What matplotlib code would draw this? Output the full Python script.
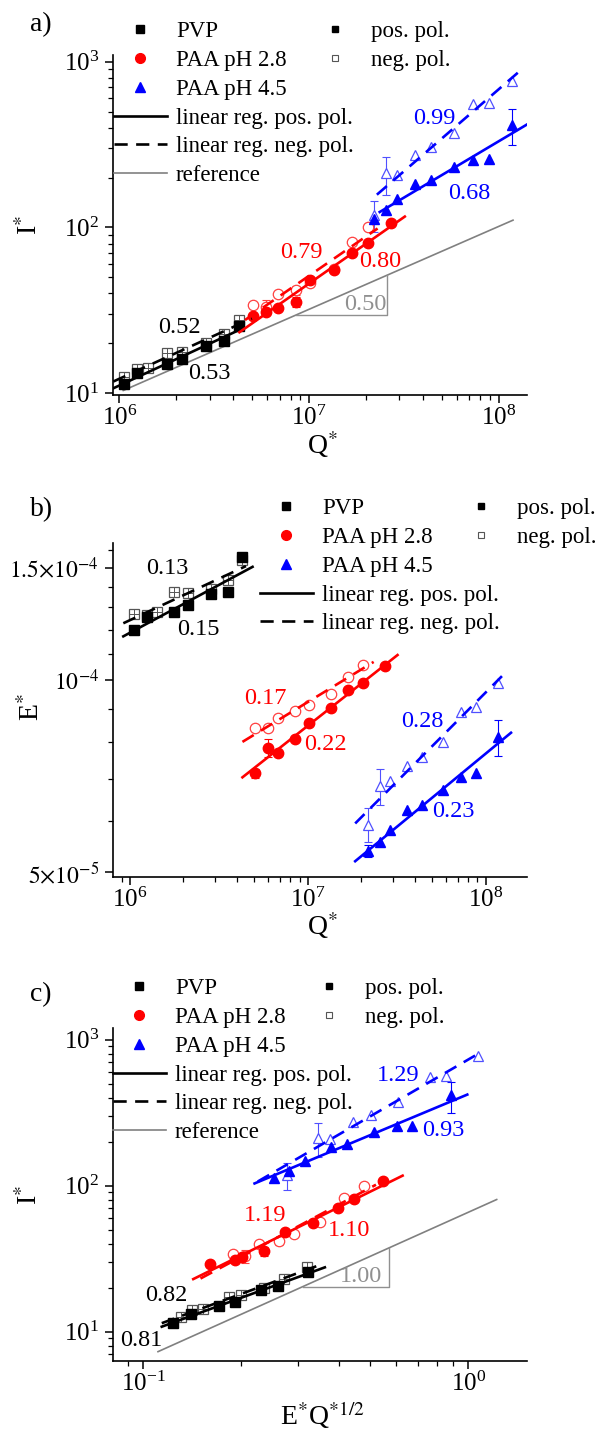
import numpy as np
import matplotlib
matplotlib.use('Agg')
import matplotlib.pyplot as plt
from matplotlib.lines import Line2D
from matplotlib.ticker import FixedLocator, FixedFormatter, NullFormatter

plt.rcParams['font.family'] = ['Liberation Serif', 'DejaVu Serif']
plt.rcParams['mathtext.fontset'] = 'stix'

# ---- values ----
# Q* of the samples (x of panels a and b)
q_pvp_pos = [1.06e6, 1.245e6, 1.78e6, 2.13e6, 2.86e6, 3.56e6, 4.27e6]
q_pvp_neg = [1.06e6, 1.245e6, 1.42e6, 1.78e6, 2.13e6, 2.86e6, 3.56e6, 4.27e6]
q_paa28_pos = [5.06e6, 5.96e6, 6.84e6, 8.5e6, 1.015e7, 1.35e7, 1.69e7, 2.04e7, 2.72e7]
q_paa28_neg = [5.06e6, 5.96e6, 6.84e6, 8.5e6, 1.015e7, 1.35e7, 1.69e7, 2.04e7]
q_paa45 = [2.19e7, 2.55e7, 2.92e7, 3.64e7, 4.4e7, 5.8e7, 7.3e7, 8.85e7, 1.18e8]

# I* (panels a and c)
i_pvp_pos = [11.4, 13.2, 15.0, 16.0, 19.3, 20.7, 25.6]
i_pvp_neg = [12.6, 14.0, 14.3, 17.4, 17.8, 20.0, 22.8, 27.7]
i_paa28_pos = [29.2, 31.0, 32.6, 35.6, 48.5, 55.5, 70.5, 81.0, 107.0]
i_paa28_neg = [33.9, 33.0, 39.8, 41.7, 46.5, 56.5, 82.0, 100.0]
i_paa45_pos = [113, 127, 148, 183, 194, 233, 255, 258, 415]
i_paa45_neg = [119, 212, 208, 274, 305, 373, 556, 561, 768]

# E* (panel b)
e_pvp_pos = [1.200e-4, 1.256e-4, 1.280e-4, 1.311e-4, 1.362e-4, 1.374e-4, 1.559e-4]
e_pvp_neg = [1.268e-4, 1.265e-4, 1.280e-4, 1.373e-4, 1.371e-4, 1.387e-4, 1.434e-4, 1.54e-4]
e_paa28_pos = [7.14e-5, 7.82e-5, 7.69e-5, 8.08e-5, 8.57e-5, 9.05e-5, 9.64e-5, 9.88e-5, 1.05e-4]
e_paa28_neg = [8.40e-5, 8.40e-5, 8.71e-5, 8.95e-5, 9.14e-5, 9.51e-5, 1.012e-4, 1.056e-4]
e_paa45_pos = [5.40e-5, 5.58e-5, 5.82e-5, 6.25e-5, 6.37e-5, 6.72e-5, 7.05e-5, 7.15e-5, 8.13e-5]
e_paa45_neg = [5.93e-5, 6.81e-5, 6.95e-5, 7.34e-5, 7.58e-5, 8.0e-5, 8.92e-5, 9.08e-5, 9.88e-5]

# error bars (0 = none drawn)
di_paa28_pos = [1.2, 0, 0, 2.5, 0, 0, 0, 0, 0]
di_paa28_neg = [0, 3.5, 0, 2.5, 0, 0, 0, 0]
di_paa45_pos = [0, 0, 0, 0, 0, 0, 0, 0, 100]
di_paa45_neg = [25, 55, 0, 0, 0, 0, 0, 0, 0]
de_paa28_pos = [0.12e-5, 0.25e-5, 0, 0, 0, 0, 0, 0, 0]
de_paa45_pos = [0.12e-5, 0, 0, 0, 0, 0, 0, 0, 0.54e-5]
de_paa45_neg = [0.36e-5, 0.44e-5, 0, 0, 0, 0, 0, 0, 0]

# fitted exponents printed on the plot: (pos, neg)
slopes_a = {'pvp': (0.53, 0.52), 'paa28': (0.80, 0.79), 'paa45': (0.68, 0.99)}
slopes_b = {'pvp': (0.15, 0.13), 'paa28': (0.22, 0.17), 'paa45': (0.23, 0.28)}
slopes_c = {'pvp': (0.81, 0.82), 'paa28': (1.10, 1.19), 'paa45': (0.93, 1.29)}

# x-extent of the regression lines: (pos, neg)
span_a = {'pvp': ([9.3e5, 4.4e6], [9.3e5, 5.0e6]), 'paa28': ([4.3e6, 3.2e7], [4.6e6, 2.3e7]),
          'paa45': ([2.36e7, 1.41e8], [2.28e7, 1.27e8])}
span_b = {'pvp': ([9.2e5, 4.9e6], [9.2e5, 4.5e6]), 'paa28': ([4.3e6, 3.2e7], [4.3e6, 2.35e7]),
          'paa45': ([1.85e7, 1.39e8], [1.85e7, 1.26e8])}
span_c = {'pvp': ([0.114, 0.362], [0.114, 0.35]), 'paa28': ([0.1425, 0.628], [0.15, 0.52]),
          'paa45': ([0.22, 0.993], [0.225, 1.05])}

# reference lines: x range, y at start, slope, triangle x1/x2
ref_a = dict(x=[1.05e6, 1.19e8], y0=10.4, m=0.5, tri=[8.57e6, 2.57e7])
ref_c = dict(x=[0.111, 1.223], y0=7.3, m=1.0, tri=[0.31, 0.571])

BLUE = '#0000ff'
RED = '#ff0000'
colors = {'pvp': 'black', 'paa28': RED, 'paa45': BLUE}
open_col = {'pvp': '#555555', 'paa28': '#ff4040', 'paa45': '#5050ff'}
mk = {'pvp': 's', 'paa28': 'o', 'paa45': '^'}
msz = {'pvp': 6.5, 'paa28': 7.5, 'paa45': 7.5}


def scatter_set(ax, key, x, y, filled, err=None):
    x = np.asarray(x); y = np.asarray(y)
    c = colors[key] if filled else open_col[key]
    if err is not None:
        err = np.asarray(err)
        sel = err > 0
        ax.errorbar(x[sel], y[sel], yerr=err[sel], fmt='none', ecolor=c,
                    elinewidth=0.8, capsize=3, capthick=0.8, zorder=2)
    if filled:
        ax.plot(x, y, ls='none', marker=mk[key], ms=msz[key], color=c, zorder=3)
    else:
        ax.plot(x, y, ls='none', marker=mk[key], ms=msz[key], mfc='white',
                mec=c, mew=0.9, zorder=3)
        if key == 'pvp':
            ax.plot(x, y, ls='none', marker='+', ms=msz[key], mec=c, mew=0.7, zorder=3)


def fit_line(ax, x, y, slope, xr, color, dashed):
    lx, ly = np.log10(x), np.log10(y)
    b = np.mean(ly - slope * lx)
    xs = np.array(xr)
    ax.plot(xs, 10 ** b * xs ** slope, color=color, lw=1.9,
            ls=(0, (5, 3.2)) if dashed else '-', zorder=4)


def ref_line(ax, ref, label, lx, ly):
    xs = np.array(ref['x'])
    ys = ref['y0'] * (xs / xs[0]) ** ref['m']
    ax.plot(xs, ys, color='#808080', lw=1.2, zorder=1)
    x1, x2 = ref['tri']
    y1 = ref['y0'] * (x1 / xs[0]) ** ref['m']
    y2 = ref['y0'] * (x2 / xs[0]) ** ref['m']
    ax.plot([x1, x2, x2], [y1, y1, y2], color='#909090', lw=1.0, zorder=1)
    ax.text(lx, ly, label, color='#909090', fontsize=17.5, ha='center', va='center')


def style_axes(ax, ysize=18):
    for s in ['top', 'right']:
        ax.spines[s].set_visible(False)
    for s in ['left', 'bottom']:
        ax.spines[s].set_linewidth(1.2)
    ax.tick_params(which='major', direction='out', length=6, width=1.1, labelsize=18)
    ax.tick_params(which='minor', direction='out', length=3.5, width=0.9)
    ax.tick_params(axis='y', which='major', pad=4, labelsize=ysize)
    ax.tick_params(axis='x', which='major', pad=2)


def legends(ax, y_top_px, x1_px, x2_px, with_ref):
    h1 = [Line2D([], [], ls='none', marker='s', ms=6, color='black'),
          Line2D([], [], ls='none', marker='o', ms=7, color=RED),
          Line2D([], [], ls='none', marker='^', ms=7, color=BLUE),
          Line2D([], [], color='black', lw=1.9),
          Line2D([], [], color='black', lw=1.9, ls=(0, (5, 3.2)))]
    l1 = ['PVP', 'PAA pH 2.8', 'PAA pH 4.5', 'linear reg. pos. pol.', 'linear reg. neg. pol.']
    if with_ref:
        h1.append(Line2D([], [], color='#808080', lw=1.2))
        l1.append('reference')
    leg1 = ax.legend(h1, l1, loc='upper left', bbox_to_anchor=(x1_px / W, 1 - y_top_px / H),
                     bbox_transform=fig.transFigure, frameon=False, fontsize=16.5,
                     handlelength=2.3, handletextpad=0.4, labelspacing=0.34,
                     borderpad=0, borderaxespad=0)
    ax.add_artist(leg1)
    h2 = [Line2D([], [], ls='none', marker='s', ms=5, color='black'),
          Line2D([], [], ls='none', marker='s', ms=5, mfc='white', mec='#555555', mew=0.8)]
    ax.legend(h2, ['pos. pol.', 'neg. pol.'], loc='upper left',
              bbox_to_anchor=(x2_px / W, 1 - y_top_px / H), bbox_transform=fig.transFigure,
              frameon=False, fontsize=16.5, handlelength=2.3, handletextpad=0.4,
              labelspacing=0.34, borderpad=0, borderaxespad=0)


W, H = 595, 1431
fig = plt.figure(figsize=(W / 100, H / 100), dpi=100)

groups = ['pvp', 'paa28', 'paa45']
q_pos = {'pvp': q_pvp_pos, 'paa28': q_paa28_pos, 'paa45': q_paa45}
q_neg = {'pvp': q_pvp_neg, 'paa28': q_paa28_neg, 'paa45': q_paa45}
i_pos = {'pvp': i_pvp_pos, 'paa28': i_paa28_pos, 'paa45': i_paa45_pos}
i_neg = {'pvp': i_pvp_neg, 'paa28': i_paa28_neg, 'paa45': i_paa45_neg}
e_pos = {'pvp': e_pvp_pos, 'paa28': e_paa28_pos, 'paa45': e_paa45_pos}
e_neg = {'pvp': e_pvp_neg, 'paa28': e_paa28_neg, 'paa45': e_paa45_neg}
di_pos = {'pvp': None, 'paa28': di_paa28_pos, 'paa45': di_paa45_pos}
di_neg = {'pvp': None, 'paa28': di_paa28_neg, 'paa45': di_paa45_neg}
de_pos = {'pvp': None, 'paa28': de_paa28_pos, 'paa45': de_paa45_pos}
de_neg = {'pvp': None, 'paa28': None, 'paa45': de_paa45_neg}

# ---------------- panel a ----------------
axa = fig.add_axes([113 / W, 1 - 395 / H, 414 / W, 340 / H])
axa.set_xscale('log'); axa.set_yscale('log')
for g in groups:
    scatter_set(axa, g, q_neg[g], i_neg[g], False, di_neg[g])
    scatter_set(axa, g, q_pos[g], i_pos[g], True, di_pos[g])
    fit_line(axa, q_pos[g], i_pos[g], slopes_a[g][0], span_a[g][0], colors[g], False)
    fit_line(axa, q_neg[g], i_neg[g], slopes_a[g][1], span_a[g][1], colors[g], True)
ref_line(axa, ref_a, '0.50', 1.97e7, 34.1)
axa.set_xlim(9.27e5, 1.41e8)
axa.set_ylim(9.77, 1097)
for txt, x, y, c in [('0.99', 4.6e7, 457, BLUE), ('0.68', 6.97e7, 161, BLUE),
                     ('0.79', 9.1e6, 71, RED), ('0.80', 2.37e7, 62, RED),
                     ('0.52', 2.07e6, 24.8, 'black'), ('0.53', 3.0e6, 13.2, 'black')]:
    axa.text(x, y, txt, color=c, fontsize=17.5, ha='center', va='center')
style_axes(axa)
axa.set_xlabel(r'Q$^{*}$', fontsize=20)
axa.xaxis.set_label_coords(0.505, -0.1)
axa.set_ylabel(r'I$^{*}$', fontsize=20)
axa.yaxis.set_label_coords(-0.17, 0.5)
legends(axa, 21, 114, 309, True)

# ---------------- panel b ----------------
axb = fig.add_axes([113 / W, 1 - 877 / H, 414 / W, 334 / H])
axb.set_xscale('log'); axb.set_yscale('log')
for g in groups:
    scatter_set(axb, g, q_neg[g], e_neg[g], False, de_neg[g])
    scatter_set(axb, g, q_pos[g], e_pos[g], True, de_pos[g])
    fit_line(axb, q_pos[g], e_pos[g], slopes_b[g][0], span_b[g][0], colors[g], False)
    fit_line(axb, q_neg[g], e_neg[g], slopes_b[g][1], span_b[g][1], colors[g], True)
axb.set_xlim(8.05e5, 1.71e8)
axb.set_ylim(4.91e-5, 1.64e-4)
for txt, x, y, c in [('0.13', 1.63e6, 1.497e-4, 'black'), ('0.15', 2.43e6, 1.202e-4, 'black'),
                     ('0.17', 5.76e6, 9.37e-5, RED), ('0.22', 1.265e7, 7.91e-5, RED),
                     ('0.28', 4.42e7, 8.6e-5, BLUE), ('0.23', 6.58e7, 6.22e-5, BLUE)]:
    axb.text(x, y, txt, color=c, fontsize=17.5, ha='center', va='center')
style_axes(axb, ysize=17)
axb.yaxis.set_major_locator(FixedLocator([5e-5, 1e-4, 1.5e-4]))
axb.yaxis.set_major_formatter(FixedFormatter([r'$5{\times}10^{-5}$', r'$10^{-4}$',
                                              r'$1.5{\times}10^{-4}$']))
axb.yaxis.set_minor_locator(FixedLocator([k * 1e-5 for k in range(6, 17) if k not in (10, 15)]))
axb.yaxis.set_minor_formatter(NullFormatter())
axb.set_xlabel(r'Q$^{*}$', fontsize=20)
axb.xaxis.set_label_coords(0.505, -0.1)
axb.set_ylabel(r'E$^{*}$', fontsize=20)
axb.yaxis.set_label_coords(-0.165, 0.51)
legends(axb, 498, 260, 455, False)

# ---------------- panel c ----------------
axc = fig.add_axes([113 / W, 1 - 1361 / H, 414 / W, 333 / H])
axc.set_xscale('log'); axc.set_yscale('log')
for g in groups:
    xp = np.array(e_pos[g]) * np.sqrt(q_pos[g])
    xn = np.array(e_neg[g]) * np.sqrt(q_neg[g])
    scatter_set(axc, g, xn, i_neg[g], False, di_neg[g])
    scatter_set(axc, g, xp, i_pos[g], True, di_pos[g])
    fit_line(axc, xp, i_pos[g], slopes_c[g][0], span_c[g][0], colors[g], False)
    fit_line(axc, xn, i_neg[g], slopes_c[g][1], span_c[g][1], colors[g], True)
ref_line(axc, ref_c, '1.00', 0.467, 23.7)
axc.set_xlim(0.0807, 1.516)
axc.set_ylim(6.30, 1203)
for txt, x, y, c in [('1.29', 0.609, 573, BLUE), ('0.93', 0.837, 240, BLUE),
                     ('1.19', 0.2367, 63, RED), ('1.10', 0.4305, 49.7, RED),
                     ('0.82', 0.118, 17.8, 'black'), ('0.81', 0.0989, 8.77, 'black')]:
    axc.text(x, y, txt, color=c, fontsize=17.5, ha='center', va='center')
style_axes(axc)
axc.set_xlabel(r'E$^{*}$Q$^{*1/2}$', fontsize=20)
axc.xaxis.set_label_coords(0.505, -0.115)
axc.set_ylabel(r'I$^{*}$', fontsize=20)
axc.yaxis.set_label_coords(-0.17, 0.5)
legends(axc, 978, 113, 303, True)

for lab, y in [('a)', 25), ('b)', 510), ('c)', 995)]:
    fig.text(30 / W, 1 - y / H, lab, fontsize=20, ha='left', va='center')

fig.savefig('out.png', dpi=100)
